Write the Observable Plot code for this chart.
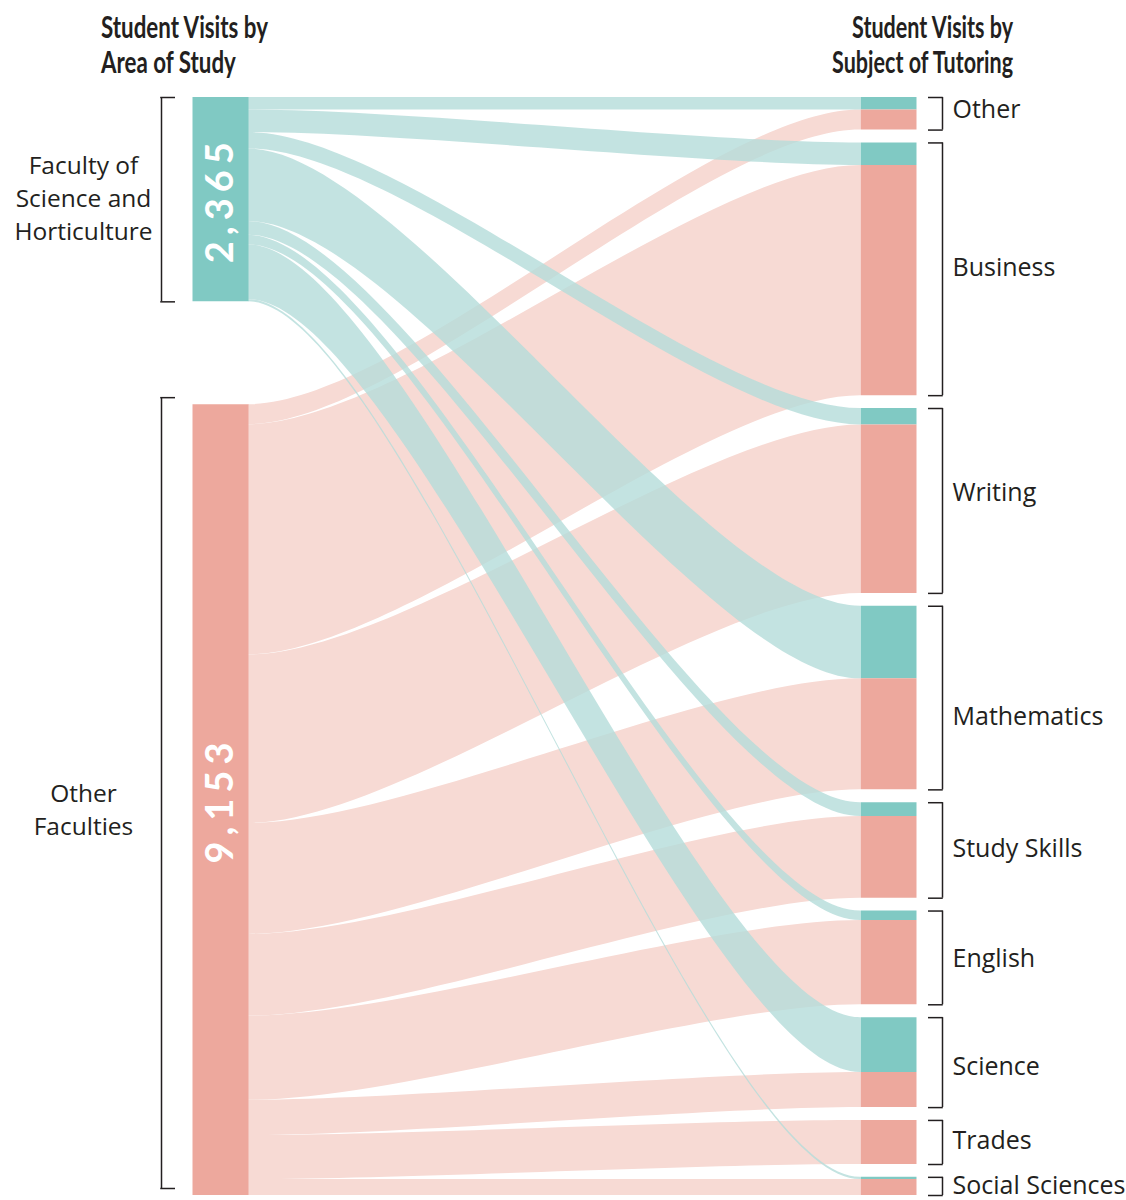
<!DOCTYPE html>
<html>
<head>
<meta charset="utf-8">
<script src="https://cdn.jsdelivr.net/npm/d3@7"></script>
<script src="https://cdn.jsdelivr.net/npm/@observablehq/plot@0.6"></script>
<style>
  body { margin: 0; background: #fff; }
  #wrap { position: relative; width: 1126px; height: 1200px; overflow: hidden; }
  #wrap svg { position: absolute; left: 0; top: 0; }
  .title {
    position: absolute; top: 9px; z-index: 2;
    font-family: Lato, "Open Sans", sans-serif;
    font-weight: 700; font-size: 30px; line-height: 35px; color: #231f20;
    white-space: nowrap; display: inline-block;
  }
  #tl { left: 101px; transform-origin: left top; text-align: left; }
  #tr { right: 113px; transform-origin: right top; text-align: right; }
</style>
</head>
<body>
<div id="wrap">
  <div class="title" id="tl">Student Visits by<br>Area of Study</div>
  <div class="title" id="tr">Student Visits by<br>Subject of Tutoring</div>
</div>
<script>
// ---------- DATA ----------
const sources = ["Faculty of Science and Horticulture", "Other Faculties"];
const sourceLabels = ["Faculty of\nScience and\nHorticulture", "Other\nFaculties"];
const sourceTotalLabels = ["2,365", "9,153"];
const subjects = ["Other", "Business", "Writing", "Mathematics", "Study Skills", "English", "Science", "Trades", "Social Sciences"];
// visits by subject, from each area of study
const scienceHortVisits = [145, 260, 190, 840, 160, 110, 635, 0, 25];
const otherFacultyVisits = [232, 2665, 1950, 1285, 945, 975, 406, 510, 185];

// ---------- LAYOUT / STYLE ----------
const W = 1126, H = 1200;
const L = {
  top: 97, bottom: 1195,
  leftNodeX: 220, rightNodeX: 888, nodeW: 56,
  linkX1: 248, linkX2: 860,
  leftBracketX: 161, leftTickX: 175,
  rightBracketX: 942, rightTickX: 928,
  leftLabelX: 83, rightLabelX: 952,
  gap: 1190,              // gap between the left nodes (visit units); shared by the 8 right gaps
  curveTension: 0.25,     // control-point distance as a share of the link's horizontal run
  srcBracketShift: [0, -7],
  srcLabelNudge: [-3, 8],
  tgtLabelNudge: [-4, -1.5, -7.5, 18.5, -1.3, 1, 4.7, -1.7, 0],
  titleWidths: {tl: 167, tr: 181}
};
const colors = {
  node: ["#80c9c3", "#eda89d"],
  link: ["#b4dcd9", "#f7dad4"],
  linkOpacity: [0.8, 1],
  ink: "#231f20"
};
const labelFont = "'Open Sans', 'Noto Sans', sans-serif";

// ---------- SANKEY LAYOUT (in visit units) ----------
const series = [scienceHortVisits, otherFacultyVisits];
const srcTotals = series.map(s => d3.sum(s));
const grand = d3.sum(srcTotals);
const yMax = grand + L.gap;
const k = (L.bottom - L.top) / yMax; // px per visit
const rightGap = L.gap / (subjects.length - 1);

let acc = 0;
const srcNodes = sources.map((name, i) => {
  const n = {name, i, y0: acc, y1: acc + srcTotals[i], label: sourceLabels[i], total: sourceTotalLabels[i]};
  acc = n.y1 + L.gap;
  return n;
});
const tgtTotals = subjects.map((_, j) => d3.sum(series, s => s[j]));
acc = 0;
const tgtNodes = subjects.map((name, j) => {
  const n = {name, j, y0: acc, y1: acc + tgtTotals[j]};
  acc = n.y1 + rightGap;
  return n;
});
const links = [];
const tOff = tgtNodes.map(n => n.y0);
series.forEach((s, i) => {
  let sOff = srcNodes[i].y0;
  s.forEach((v, j) => {
    if (v > 0) links.push({id: `${i}-${j}`, src: i, tgt: j, value: v, s0: sOff, s1: sOff + v, t0: tOff[j], t1: tOff[j] + v});
    sOff += v; tOff[j] += v;
  });
});
const linksOf = i => links.filter(d => d.src === i);
// each link band as two ends (source side, target side) for an area mark
const bandEnds = i => linksOf(i).flatMap(d => [
  {id: d.id, x: L.linkX1, y0: d.s0, y1: d.s1},
  {id: d.id, x: L.linkX2, y0: d.t0, y1: d.t1}
]);

// S-shaped horizontal curve (like d3.curveBumpX, with adjustable control distance)
class SankeyCurve {
  constructor(context, f) { this._context = context; this._f = f; }
  areaStart() { this._line = 0; }
  areaEnd() { this._line = NaN; }
  lineStart() { this._point = 0; }
  lineEnd() {
    if (this._line || (this._line !== 0 && this._point === 1)) this._context.closePath();
    this._line = 1 - this._line;
  }
  point(x, y) {
    x = +x; y = +y;
    if (this._point === 0) {
      this._point = 1;
      if (this._line) this._context.lineTo(x, y); else this._context.moveTo(x, y);
    } else {
      const dx = x - this._x0;
      this._context.bezierCurveTo(this._x0 + this._f * dx, this._y0, x - this._f * dx, y, x, y);
    }
    this._x0 = x; this._y0 = y;
  }
}
const sankeyCurve = context => new SankeyCurve(context, L.curveTension);

// ---------- PLOT ----------
const bracketSrc = srcNodes.map(d => ({...d, b0: d.y0 + L.srcBracketShift[d.i] / k, b1: d.y1 + L.srcBracketShift[d.i] / k}));
const srcTicks = bracketSrc.flatMap(d => [d.b0, d.b1]);
const tgtTicks = tgtNodes.flatMap(d => [d.y0, d.y1]);

const marks = [];
// link bands: pink first, teal on top
[1, 0].forEach(i => {
  marks.push(Plot.area(bandEnds(i), {
    x1: "x", y1: "y0", y2: "y1", z: "id",
    curve: sankeyCurve, fill: colors.link[i], opacity: colors.linkOpacity[i]
  }));
});
// left nodes
srcNodes.forEach(n => {
  marks.push(Plot.ruleX([n], {x: () => L.leftNodeX, y1: "y0", y2: "y1", stroke: colors.node[n.i], strokeWidth: L.nodeW, strokeLinecap: "butt"}));
});
// right nodes, split by source
[0, 1].forEach(i => {
  marks.push(Plot.ruleX(linksOf(i), {x: () => L.rightNodeX, y1: "t0", y2: "t1", stroke: colors.node[i], strokeWidth: L.nodeW, strokeLinecap: "butt"}));
});
// brackets
marks.push(Plot.ruleX(bracketSrc, {x: () => L.leftBracketX, y1: "b0", y2: "b1", stroke: colors.ink, strokeWidth: 1.5}));
marks.push(Plot.ruleY(srcTicks, {y: d => d, x1: () => L.leftBracketX - 0.75, x2: () => L.leftTickX, stroke: colors.ink, strokeWidth: 1.5}));
marks.push(Plot.ruleX(tgtNodes, {x: () => L.rightBracketX, y1: "y0", y2: "y1", stroke: colors.ink, strokeWidth: 1.5}));
marks.push(Plot.ruleY(tgtTicks, {y: d => d, x1: () => L.rightTickX, x2: () => L.rightBracketX + 0.75, stroke: colors.ink, strokeWidth: 1.5}));
// labels
marks.push(Plot.text(srcNodes, {
  x: () => L.leftLabelX, y: d => (d.y0 + d.y1) / 2 + L.srcLabelNudge[d.i] / k, text: "label",
  textAnchor: "middle", lineHeight: 1.35, fontSize: 24.5, fontFamily: labelFont, fill: colors.ink
}));
marks.push(Plot.text(tgtNodes, {
  x: () => L.rightLabelX, y: d => (d.y0 + d.y1) / 2 + L.tgtLabelNudge[d.j] / k, text: "name",
  textAnchor: "start", fontSize: 25, fontFamily: labelFont, fill: colors.ink
}));
// totals inside left nodes
marks.push(Plot.text(srcNodes, {
  x: () => L.leftNodeX, y: d => (d.y0 + d.y1) / 2, text: "total", rotate: -90,
  fontSize: 38, fontFamily: "Lato", fill: "white"
}));

const chart = Plot.plot({
  width: W, height: H, margin: 0,
  x: {domain: [0, W], range: [0, W], axis: null},
  y: {domain: [0, yMax], range: [L.top, L.bottom], axis: null},
  style: {background: "transparent"},
  marks
});
d3.select(chart).selectAll("text")
  .filter(function() { return /^\d,\d{3}$/.test(this.textContent); })
  .style("letter-spacing", "6px")
  .style("font-family", "Lato, 'Open Sans', sans-serif")
  .style("font-weight", "700");
document.getElementById("wrap").appendChild(chart);

// condense the two headings to the reference widths
for (const id of ["tl", "tr"]) {
  const el = document.getElementById(id);
  const w = el.getBoundingClientRect().width;
  el.style.transform = `scaleX(${L.titleWidths[id] / w})`;
}
</script>
</body>
</html>
